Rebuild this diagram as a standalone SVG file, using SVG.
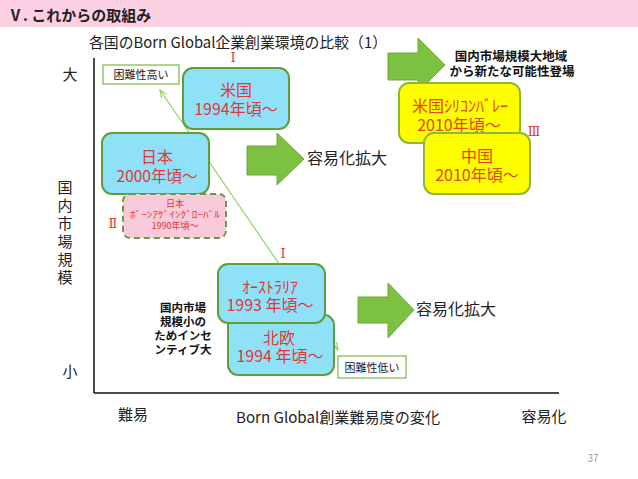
<svg xmlns="http://www.w3.org/2000/svg" width="638" height="479" viewBox="0 0 638 479">
<defs>
<style>
text{font-family:"Noto Sans CJK JP","Liberation Sans",sans-serif;dominant-baseline:central;text-anchor:middle;}
.lbl{font-size:15px;fill:#222;}
.red{fill:#e0383a;}
.org{fill:#e8421a;}
.num{font-family:"DejaVu Serif","Liberation Serif",serif;font-size:13px;fill:#e0383a;}
.blue{fill:#8fe1f8;stroke:#5f9e3a;stroke-width:2;}
.yel{fill:#ffff00;stroke:#8cb833;stroke-width:2;}
.pink{fill:#f9c9dc;stroke:#6a9a44;stroke-width:2;stroke-dasharray:6 4;}
.tag{fill:#fff;stroke:#7ab84a;stroke-width:1.2;}
.arrow{fill:#7cc142;stroke:#6aa836;stroke-width:1;}
.bold{font-weight:bold;font-size:12.5px;fill:#111;}
.note{font-weight:bold;font-size:11.5px;fill:#111;}
.sm{font-size:9px;fill:#e0383a;}
</style>
<marker id="ah" viewBox="0 0 10 10" refX="9" refY="5" markerWidth="7" markerHeight="7" orient="auto-start-reverse">
<path d="M0,1 L9,5 L0,9" fill="none" stroke="#8ed060" stroke-width="1.3"/>
</marker>
</defs>
<rect x="0" y="0" width="638" height="479" fill="#fff"/>
<g id="header">
<rect x="0" y="0" width="638" height="27" fill="#fbd0e3"/>
<text x="8" y="14" style="text-anchor:start;font-weight:bold;font-size:15px;fill:#222">Ⅴ. これからの取組み</text>
</g>
<text class="lbl" x="238" y="41" textLength="298" lengthAdjust="spacingAndGlyphs">各国のBorn Global企業創業環境の比較（1）</text>
<g id="axes">
<line x1="94" y1="58" x2="94" y2="393" stroke="#111" stroke-width="1.5"/>
<line x1="94" y1="393" x2="559" y2="393" stroke="#111" stroke-width="1.5"/>
<text class="lbl" x="70" y="73">大</text>
<text class="lbl" x="70" y="370">小</text>
<text class="lbl" x="65" y="186">国</text>
<text class="lbl" x="65" y="204">内</text>
<text class="lbl" x="65" y="222">市</text>
<text class="lbl" x="65" y="240">場</text>
<text class="lbl" x="65" y="258">規</text>
<text class="lbl" x="65" y="276">模</text>
<text class="lbl" x="133" y="413">難易</text>
<text class="lbl" x="338" y="416" textLength="204" lengthAdjust="spacingAndGlyphs">Born Global創業難易度の変化</text>
<text class="lbl" x="544" y="415">容易化</text>
<text x="593" y="457" style="font-size:10px;fill:#999">37</text>
</g>
<g id="connectors">
<line x1="338" y1="350" x2="160" y2="90" stroke="#8ed060" stroke-width="1.2" marker-start="url(#ah)" marker-end="url(#ah)"/>
</g>
<g id="arrow-top">
<path class="arrow" d="M388,53 L418,53 L418,38 L445,65 L418,92 L418,80 L388,80 Z"/>
<text class="bold" x="511" y="55">国内市場規模大地域</text>
<text class="bold" x="512" y="70">から新たな可能性登場</text>
</g>
<g id="arrow-mid">
<path class="arrow" d="M247,146 L277,146 L277,133 L304,159 L277,185 L277,175 L247,175 Z"/>
<text x="347" y="157" style="font-size:16px;fill:#222">容易化拡大</text>
</g>
<g id="arrow-low">
<path class="arrow" d="M358,297 L388,297 L388,283 L414,310 L388,338 L388,323 L358,323 Z"/>
<text x="456" y="308" style="font-size:16px;fill:#222">容易化拡大</text>
</g>
<g id="tag-high">
<rect class="tag" x="103" y="65" width="76" height="19"/>
<text x="141" y="74" style="font-size:11px;fill:#222">困難性高い</text>
</g>
<g id="usa">
<text class="num" x="233" y="57">Ⅰ</text>
<rect class="blue" x="183" y="68" width="106" height="61" rx="10"/>
<text class="red" x="236" y="89" style="font-size:16px">米国</text>
<text class="red" x="236" y="108" style="font-size:16px">1994年頃～</text>
</g>
<g id="japan">
<rect class="blue" x="102" y="133" width="107" height="61" rx="10"/>
<text class="red" x="157" y="156" style="font-size:16px">日本</text>
<text class="red" x="157" y="175" style="font-size:15.5px">2000年頃～</text>
</g>
<g id="japan-bg">
<text class="num" x="113" y="223">Ⅱ</text>
<rect class="pink" x="123" y="194" width="103" height="44" rx="7"/>
<text class="sm" x="175" y="203">日本</text>
<text class="sm" x="175" y="214" textLength="90" lengthAdjust="spacingAndGlyphs">ﾎﾞｰﾝｱｹﾞｲﾝｸﾞﾛｰﾊﾞﾙ</text>
<text class="sm" x="175" y="225">1990年頃～</text>
</g>
<g id="silicon">
<rect class="yel" x="399" y="83" width="121" height="60" rx="10"/>
<text class="org" x="460" y="105" style="font-size:16px">米国ｼﾘｺﾝﾊﾞﾚｰ</text>
<text class="org" x="459" y="124" style="font-size:16px">2010年頃～</text>
</g>
<g id="china">
<rect class="yel" x="424" y="133" width="106" height="61" rx="10"/>
<text class="org" x="477" y="155" style="font-size:16px">中国</text>
<text class="org" x="477" y="174" style="font-size:16px">2010年頃～</text>
<text class="num" x="534" y="131">Ⅲ</text>
</g>
<g id="nordic">
<rect class="blue" x="228" y="315" width="106" height="60" rx="10"/>
<text class="red" x="279" y="337" style="font-size:16px">北欧</text>
<text class="red" x="280" y="355" style="font-size:16px">1994 年頃～</text>
</g>
<g id="australia">
<text class="num" x="283" y="253">Ⅰ</text>
<rect class="blue" x="218" y="264" width="107" height="59" rx="10"/>
<text class="red" x="270" y="286" style="font-size:16px">ｵｰｽﾄﾗﾘｱ</text>
<text class="red" x="270" y="304" style="font-size:16px">1993 年頃～</text>
</g>
<g id="small-note">
<text class="note" x="183" y="307">国内市場</text>
<text class="note" x="183" y="321">規模小の</text>
<text class="note" x="183" y="335">ためインセ</text>
<text class="note" x="183" y="349">ンティブ大</text>
</g>
<g id="tag-low">
<rect class="tag" x="338" y="356" width="68" height="22"/>
<text x="372" y="367" style="font-size:11px;fill:#222">困難性低い</text>
</g>
</svg>
